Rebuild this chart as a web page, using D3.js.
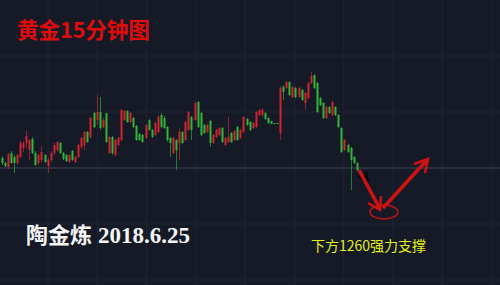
<!DOCTYPE html>
<html>
<head>
<meta charset="utf-8">
<script src="https://cdn.jsdelivr.net/npm/d3@7"></script>
<style>
  body { margin: 0; background: #161a27; }
  svg { display: block; }
</style>
</head>
<body>
<script>
var w = 500;
var h = 285;

// 15 minute gold candles (price)
var opens = [1265.2,1264.7,1264.3,1265.7,1265.3,1264.7,1265.3,1266.2,1266.7,1266.0,
             1267.1,1265.7,1264.7,1265.0,1265.5,1264.4,1265.0,1265.7,1266.0,1266.7,
             1265.7,1265.5,1264.8,1265.9,1264.8,1265.3,1266.3,1266.5,1267.8,1267.3,
             1269.7,1269.0,1269.8,1268.3,1269.7,1265.7,1267.3,1265.5,1266.5,1267.0,
             1269.0,1269.9,1268.8,1269.2,1268.4,1267.6,1267.5,1267.2,1269.0,1268.0,
             1267.5,1267.8,1269.5,1269.2,1268.3,1267.2,1265.7,1267.0,1266.7,1267.8,
             1267.0,1268.0,1269.3,1269.0,1270.8,1269.7,1268.5,1267.8,1268.9,1266.7,
             1267.3,1267.5,1268.2,1266.5,1266.8,1267.7,1267.0,1268.3,1267.2,1267.8,
             1269.1,1268.8,1268.2,1268.3,1269.5,1269.5,1269.7,1269.2,1268.9,1268.7,
             1268.7,1267.7,1272.3,1272.2,1272.8,1271.3,1272.2,1271.3,1272.0,1270.7,
             1271.2,1272.7,1273.5,1272.7,1271.2,1270.7,1269.2,1270.3,1269.5,1270.3,
             1269.5,1268.2,1266.0,1266.5,1266.2,1265.3,1264.7];
var highs = [1265.4,1264.8,1265.7,1265.9,1265.5,1265.6,1266.9,1266.9,1267.9,1267.1,
             1267.3,1265.9,1265.6,1266.4,1265.6,1265.2,1265.9,1266.7,1266.9,1266.8,
             1265.8,1265.6,1265.6,1266.0,1265.4,1266.6,1267.3,1267.9,1267.9,1269.3,
             1269.8,1271.5,1271.3,1269.2,1269.7,1267.4,1267.4,1267.1,1267.3,1270.1,
             1270.0,1270.0,1269.8,1269.3,1268.5,1267.7,1267.6,1268.6,1269.1,1268.1,
             1268.8,1269.5,1269.7,1269.4,1268.4,1267.3,1267.3,1267.1,1268.2,1267.9,
             1268.9,1269.9,1269.4,1270.8,1270.9,1269.8,1268.6,1268.6,1269.0,1267.6,
             1268.1,1268.3,1268.3,1267.3,1269.3,1267.8,1268.0,1268.4,1268.1,1269.4,
             1269.2,1268.9,1268.8,1269.9,1270.1,1270.2,1269.8,1269.3,1268.9,1268.7,
             1268.7,1272.4,1272.5,1272.9,1272.9,1272.4,1272.3,1272.3,1272.1,1271.8,
             1272.8,1273.8,1273.6,1272.8,1271.3,1270.8,1270.4,1270.4,1270.9,1270.4,
             1269.6,1268.3,1267.1,1266.6,1266.3,1265.4,1264.8];
var lows = [1264.5,1264.3,1264.1,1264.6,1263.7,1264.5,1265.2,1265.8,1266.2,1265.0,
            1265.6,1264.4,1264.5,1264.8,1264.7,1263.7,1264.8,1265.5,1265.8,1265.6,
            1265.0,1264.8,1264.7,1264.9,1264.7,1265.2,1266.1,1266.0,1266.7,1267.1,
            1268.2,1268.5,1268.0,1268.2,1266.7,1265.6,1265.5,1265.4,1266.4,1266.9,
            1268.9,1268.7,1268.7,1268.2,1266.9,1266.9,1266.7,1267.1,1267.9,1267.2,
            1267.4,1267.7,1268.2,1268.1,1266.8,1265.3,1265.6,1264.0,1265.0,1266.6,
            1266.9,1267.9,1267.0,1268.9,1268.2,1267.4,1267.6,1267.7,1266.3,1266.6,
            1267.2,1267.4,1266.7,1266.4,1266.7,1266.7,1266.9,1266.9,1267.1,1267.7,
            1268.4,1267.9,1268.1,1268.2,1269.4,1269.3,1269.0,1268.6,1268.6,1268.6,
            1268.6,1267.0,1271.0,1272.1,1271.4,1271.2,1271.2,1271.2,1270.9,1270.0,
            1271.1,1272.6,1272.1,1269.7,1270.4,1269.1,1269.1,1269.6,1269.4,1269.4,
            1268.2,1265.7,1265.9,1265.7,1262.0,1264.6,1263.9];
var closes = [1264.7,1264.4,1265.6,1264.7,1264.7,1265.5,1266.7,1266.7,1267.4,1267.0,
              1265.7,1264.5,1265.5,1265.8,1264.8,1265.0,1265.7,1266.5,1266.8,1265.7,
              1265.1,1264.9,1265.5,1265.0,1265.3,1266.5,1267.2,1267.8,1266.8,1269.2,
              1268.3,1269.8,1268.2,1269.0,1266.8,1267.3,1265.7,1267.0,1267.2,1270.0,
              1269.9,1268.8,1269.7,1268.3,1267.0,1267.0,1266.8,1268.5,1268.0,1267.3,
              1268.7,1269.3,1268.3,1268.2,1267.0,1266.7,1267.2,1266.0,1267.8,1266.7,
              1268.8,1269.8,1268.0,1270.7,1268.3,1267.5,1267.7,1268.5,1266.7,1267.5,
              1268.0,1268.2,1266.8,1267.2,1267.3,1266.8,1267.9,1267.0,1268.0,1269.3,
              1268.5,1268.0,1268.7,1269.8,1270.0,1270.0,1269.1,1268.7,1268.6,1268.6,
              1268.6,1272.2,1271.8,1272.8,1271.5,1272.3,1271.3,1272.2,1271.0,1271.7,
              1272.7,1273.4,1272.2,1269.8,1270.5,1269.2,1270.3,1269.7,1270.8,1269.5,
              1268.3,1265.8,1267.0,1265.8,1265.0,1264.7,1264.0];

var titleText = '黄金15分钟图';
var authorText = '陶金炼';
var dateText = '2018.6.25';
var noteText = '下方1260强力支撑';

var svg = d3.select('body')
            .append('svg')
            .attr('width', w)
            .attr('height', h);

svg.append('rect')
   .attr('width', w)
   .attr('height', h)
   .attr('fill', '#161a27');

// faint grid
var gx = d3.range(10).map(function(i){ return 48 + i * 49.3; });
var gy = [56, 112, 168, 224, 280];

svg.append('g').selectAll('line')
   .data(gx)
   .enter()
   .append('line')
   .attr('x1', function(d){ return d; })
   .attr('x2', function(d){ return d; })
   .attr('y1', 0)
   .attr('y2', h)
   .attr('stroke', '#1f2433')
   .attr('stroke-width', 1);

svg.append('g').selectAll('line')
   .data(gy)
   .enter()
   .append('line')
   .attr('x1', 0)
   .attr('x2', w)
   .attr('y1', function(d){ return d; })
   .attr('y2', function(d){ return d; })
   .attr('stroke', function(d){ return d === 168 ? '#2a3040' : '#1f2433'; })
   .attr('stroke-width', function(d){ return d === 168 ? 2 : 1; });

var candles = opens.map(function(o, i){
    return {i: i, o: o, h: highs[i], l: lows[i], c: closes[i]};
});

var x = d3.scaleLinear()
          .domain([0, candles.length - 1])
          .range([1.7, 356.7]);

var y = d3.scaleLinear()
          .domain([1260, 1281])
          .range([210, 0]);

var up = '#cf2530';
var down = '#33b438';

var cg = svg.append('g');

cg.selectAll('line')
  .data(candles)
  .enter()
  .append('line')
  .attr('x1', function(d){ return Math.round(x(d.i)) + 0.5; })
  .attr('x2', function(d){ return Math.round(x(d.i)) + 0.5; })
  .attr('y1', function(d){ return y(d.h); })
  .attr('y2', function(d){ return y(d.l); })
  .attr('stroke', function(d){ return d.c >= d.o ? '#8e2430' : '#23802a'; })
  .attr('stroke-width', 1);

cg.selectAll('rect')
  .data(candles)
  .enter()
  .append('rect')
  .attr('x', function(d){ return Math.round(x(d.i)) - 0.5; })
  .attr('width', 2)
  .attr('y', function(d){ return y(Math.max(d.o, d.c)); })
  .attr('height', function(d){ return Math.max(1, y(Math.min(d.o, d.c)) - y(Math.max(d.o, d.c))); })
  .attr('fill', function(d){ return d.c >= d.o ? up : down; });

// red arrows + ellipse at the 1260 support
var red = '#d01212';
var ann = svg.append('g');

ann.append('polygon')
   .attr('points', '367,170 369,182 356,177 363,176')
   .attr('fill', '#05070c');

ann.append('line')
   .attr('x1', 359).attr('y1', 170)
   .attr('x2', 380).attr('y2', 209)
   .attr('stroke', red).attr('stroke-width', 3.5);
ann.append('polyline')
   .attr('points', '368,203 380,210 381,196')
   .attr('fill', 'none').attr('stroke', red).attr('stroke-width', 2.5);

ann.append('line')
   .attr('x1', 383).attr('y1', 208)
   .attr('x2', 427).attr('y2', 160)
   .attr('stroke', red).attr('stroke-width', 3.5);
ann.append('polyline')
   .attr('points', '414,164 428,159 425,173')
   .attr('fill', 'none').attr('stroke', red).attr('stroke-width', 2.5);

ann.append('ellipse')
   .attr('cx', 384).attr('cy', 212)
   .attr('rx', 14).attr('ry', 7)
   .attr('fill', 'none')
   .attr('stroke', '#c81515')
   .attr('stroke-width', 1.5);

// texts
svg.append('text')
   .attr('x', 17)
   .attr('y', 38)
   .attr('fill', '#e00c0c')
   .style('font-family', '"Noto Sans CJK SC", sans-serif')
   .style('font-weight', 'bold')
   .style('font-size', '21.5px')
   .text(titleText);

var sig = svg.append('text')
   .attr('x', 26)
   .attr('y', 243)
   .attr('fill', '#f4f4f4')
   .style('font-size', '22px');
sig.append('tspan')
   .style('font-family', '"Noto Sans CJK SC", sans-serif')
   .style('font-weight', 'bold')
   .text(authorText);
sig.append('tspan')
   .attr('dx', 6)
   .style('font-family', '"Liberation Serif", serif')
   .style('font-weight', 'bold')
   .style('font-size', '23px')
   .text(dateText);

svg.append('text')
   .attr('x', 311)
   .attr('y', 251)
   .attr('fill', '#e3ee1c')
   .style('font-family', '"Noto Sans CJK SC", sans-serif')
   .style('font-size', '14px')
   .text(noteText);
</script>
</body>
</html>
